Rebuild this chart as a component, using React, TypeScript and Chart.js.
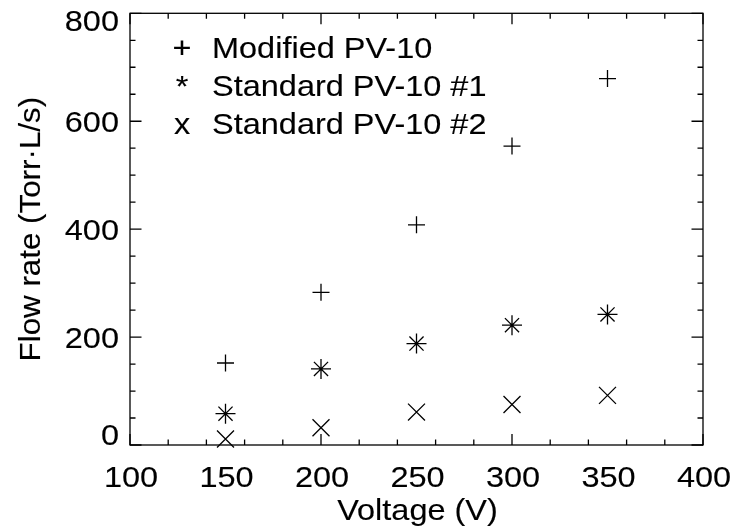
import { useEffect, useRef } from "react";
import { Chart, registerables } from "chart.js";

Chart.register(...registerables);

// Measured flow rate against discharge voltage for three pumps
const voltages = [150, 200, 250, 300, 350];
const modifiedPV10 = [152, 283, 408, 554, 679];
const standardPV10No1 = [58, 141, 188, 222, 242];
const standardPV10No2 = [11, 32, 61, 75, 92];

const xLabelValues = [100, 150, 200, 250, 300, 350, 400];
const yLabelValues = [0, 200, 400, 600, 800];

const legendSymbols = ["+", "*", "x"];
const legendLabels = ["Modified PV-10", "Standard PV-10 #1", "Standard PV-10 #2"];

const xTitle = "Voltage (V)";
const yTitle = "Flow rate (Torr\u00B7L/s)";

const FONT = '29px "Liberation Sans", Arial, Helvetica, sans-serif';
const INK = "#000";
const WIDEN = 1.12;

const toPoints = (ys: number[]) => voltages.map((v, i) => ({ x: v, y: ys[i] }));

// Text in a slightly widened sans face
function drawText(ctx: CanvasRenderingContext2D, text: string, x: number, y: number, align: CanvasTextAlign, widen = WIDEN) {
  ctx.save();
  ctx.translate(x, y);
  ctx.scale(widen, 1);
  ctx.textAlign = align;
  ctx.fillText(text, 0, 0);
  ctx.lineWidth = 0.12;
  ctx.strokeText(text, 0, 0);
  ctx.restore();
}

// Boxed axes with inward ticks on all four sides, labels, titles and a text legend
const framePlugin = {
  id: "boxFrame",
  afterDatasetsDraw(chart: any) {
    const { ctx, chartArea: a, scales } = chart;
    const xs = scales.x;
    const ys = scales.y;
    ctx.save();
    ctx.strokeStyle = INK;
    ctx.lineWidth = 1.3;
    ctx.strokeRect(a.left, a.top, a.right - a.left, a.bottom - a.top);

    ctx.beginPath();
    xs.ticks.forEach((t: any) => {
      const px = xs.getPixelForValue(t.value);
      const len = t.value % 50 === 0 ? 11 : 5.5;
      ctx.moveTo(px, a.bottom);
      ctx.lineTo(px, a.bottom - len);
      ctx.moveTo(px, a.top);
      ctx.lineTo(px, a.top + len);
    });
    ys.ticks.forEach((t: any) => {
      const py = ys.getPixelForValue(t.value);
      const len = t.value % 200 === 0 ? 11.5 : 5.5;
      ctx.moveTo(a.left, py);
      ctx.lineTo(a.left + len, py);
      ctx.moveTo(a.right, py);
      ctx.lineTo(a.right - len, py);
    });
    ctx.stroke();

    ctx.fillStyle = INK;
    ctx.strokeStyle = INK;
    ctx.font = FONT;
    ctx.textBaseline = "alphabetic";

    // x tick labels
    xLabelValues.forEach((v) => {
      drawText(ctx, String(v), xs.getPixelForValue(v) + 1, a.bottom + 42, "center");
    });

    // y tick labels, kept inside the vertical extent of the frame
    yLabelValues.forEach((v) => {
      const py = ys.getPixelForValue(v);
      let base = py + 10.5;
      base = Math.max(base, a.top + 18);
      base = Math.min(base, a.bottom);
      drawText(ctx, String(v), a.left - 11, base, "right");
    });

    // axis titles
    drawText(ctx, xTitle, (a.left + a.right) / 2 + 1, a.bottom + 75, "center");
    ctx.save();
    ctx.translate(40, (a.top + a.bottom) / 2);
    ctx.rotate(-Math.PI / 2);
    drawText(ctx, yTitle, 0, 0, "center", 1.08);
    ctx.restore();

    // legend
    legendLabels.forEach((label, i) => {
      const base = a.top + 45 + i * 38;
      drawText(ctx, legendSymbols[i], a.left + 52, base, "center");
      drawText(ctx, label, a.left + 82, base, "left");
    });
    ctx.restore();
  },
};

const pointCommon = {
  showLine: false,
  pointBorderColor: INK,
  pointBackgroundColor: "transparent",
  pointBorderWidth: 1.3,
  clip: false as const,
};

export default function App() {
  const ref = useRef<HTMLCanvasElement>(null);

  useEffect(() => {
    if (!ref.current) return;
    const chart = new Chart(ref.current, {
      type: "scatter",
      data: {
        datasets: [
          {
            ...pointCommon,
            label: legendLabels[0],
            data: toPoints(modifiedPV10),
            pointStyle: "cross",
            pointRadius: 8.5,
          },
          {
            ...pointCommon,
            label: legendLabels[1],
            data: toPoints(standardPV10No1),
            pointStyle: "star",
            pointRadius: 10,
          },
          {
            ...pointCommon,
            label: legendLabels[2],
            data: toPoints(standardPV10No2),
            pointStyle: "crossRot",
            pointRadius: 12,
          },
        ],
      },
      options: {
        responsive: false,
        animation: false,
        events: [],
        layout: { padding: { left: 130, right: 29, top: 12, bottom: 86 } },
        plugins: {
          legend: { display: false },
          tooltip: { enabled: false },
        },
        scales: {
          x: {
            type: "linear",
            display: false,
            min: 100,
            max: 400,
            ticks: { stepSize: 10 },
          },
          y: {
            type: "linear",
            display: false,
            min: 0,
            max: 800,
            ticks: { stepSize: 50 },
          },
        },
      },
      plugins: [framePlugin],
    });
    return () => chart.destroy();
  }, []);

  return (
    <div
      style={{
        position: "fixed",
        left: 0,
        top: 0,
        width: 732,
        height: 531,
        background: "#fff",
      }}
    >
      <canvas
        ref={ref}
        width={732}
        height={531}
        style={{ display: "block", width: 732, height: 531 }}
      />
    </div>
  );
}
